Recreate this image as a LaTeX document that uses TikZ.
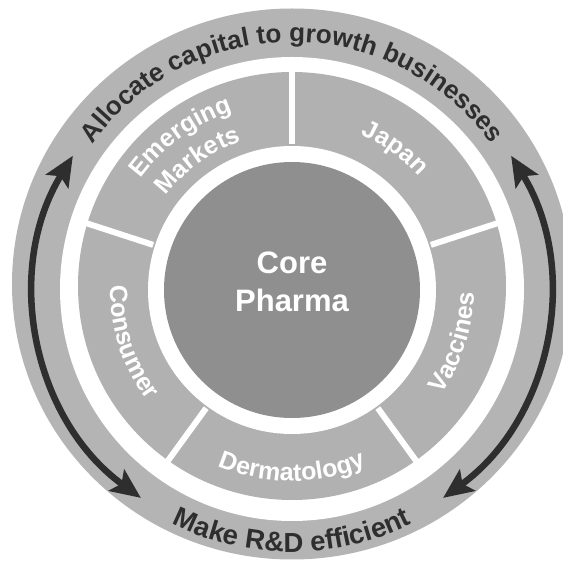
\documentclass[tikz,border=0pt]{standalone}
\usepackage{fontspec}
\setmainfont{Liberation Sans}
\usetikzlibrary{decorations.text,arrows.meta}
\definecolor{ringgray}{HTML}{B4B4B4}
\definecolor{seggray}{HTML}{B1B1B1}
\definecolor{coregray}{HTML}{8F8F8F}
\definecolor{inkdark}{HTML}{2E2E2E}
\newcommand\segfont{\fontsize{25}{30}\selectfont\bfseries\color{white}}
\newcommand\rimfont{\fontsize{26}{30}\selectfont\bfseries\color{inkdark}}
\newcommand\rimfontlow{\fontsize{27.5}{32}\selectfont\bfseries\color{inkdark}}
\begin{document}
\begin{tikzpicture}[x=1pt,y=1pt,
  curvetext/.style={decorate, decoration={text along path, text align=center, text={#1}}},
  cyclearrow/.style={draw=inkdark, line width=6.5pt,
    >={Stealth[length=30pt,width=26pt,inset=6pt]}, <->},
  divider/.style={draw=white, line width=6pt},
]
\useasboundingbox (0,0) rectangle (563,563);
\fill[white] (0,0) rectangle (563,563);
\coordinate (hub) at (292,273);
\coordinate (rimc) at (292,279);

% outer band with the two strategic themes
\fill[ringgray] (rimc) ellipse [x radius=280, y radius=275.5];
\fill[white] (292,274) circle[radius=232];

% ring of businesses
\fill[seggray] (292,277) circle[radius=214];
\fill[white] (hub) circle[radius=144];
\node[circle, fill=coregray, minimum size=256pt, inner sep=0pt] (core) at (hub) {};
\foreach \a in {18,90,162,234,306}
  \draw[divider] (hub) ++(\a:146) -- ++(\a:80);

% cycle arrows between the themes
\draw[cyclearrow] (hub) ++(234:257) arc[start angle=234, end angle=148.5, radius=257];
\draw[cyclearrow] (hub) ++(306:257) arc[start angle=306, end angle=391.5, radius=257];

% theme labels
\path[curvetext={|\rimfont|Allocate capital to growth businesses}]
  (292,276) ++(150:245) arc[start angle=150, end angle=30, radius=245];
\path[curvetext={|\rimfontlow|Make R{\&}D efficient}]
  (rimc) ++(235:268) arc[start angle=235, end angle=305, radius=268];

% business labels
\path[curvetext={|\segfont|Japan}]
  (hub) ++(84:170) arc[start angle=84, end angle=24, radius=170];
\path[curvetext={|\segfont|Emerging}]
  (hub) ++(156:188) arc[start angle=156, end angle=96, radius=188];
\path[curvetext={|\segfont|Markets}]
  (hub) ++(156:157) arc[start angle=156, end angle=96, radius=157];
\path[curvetext={|\segfont|Consumer}]
  (hub) ++(168:182) arc[start angle=168, end angle=228, radius=182];
\path[curvetext={|\segfont|Vaccines}]
  (hub) ++(312:182) arc[start angle=312, end angle=372, radius=182];
\path[curvetext={|\segfont|Dermatology}]
  (hub) ++(240:191) arc[start angle=240, end angle=300, radius=191];

% centre
\node[font=\fontsize{31}{36}\selectfont\bfseries, text=white, anchor=base] (coreA) at (292,289) {Core};
\node[font=\fontsize{31}{36}\selectfont\bfseries, text=white, anchor=base] (coreB) at (292,251) {Pharma};
\end{tikzpicture}
\end{document}
